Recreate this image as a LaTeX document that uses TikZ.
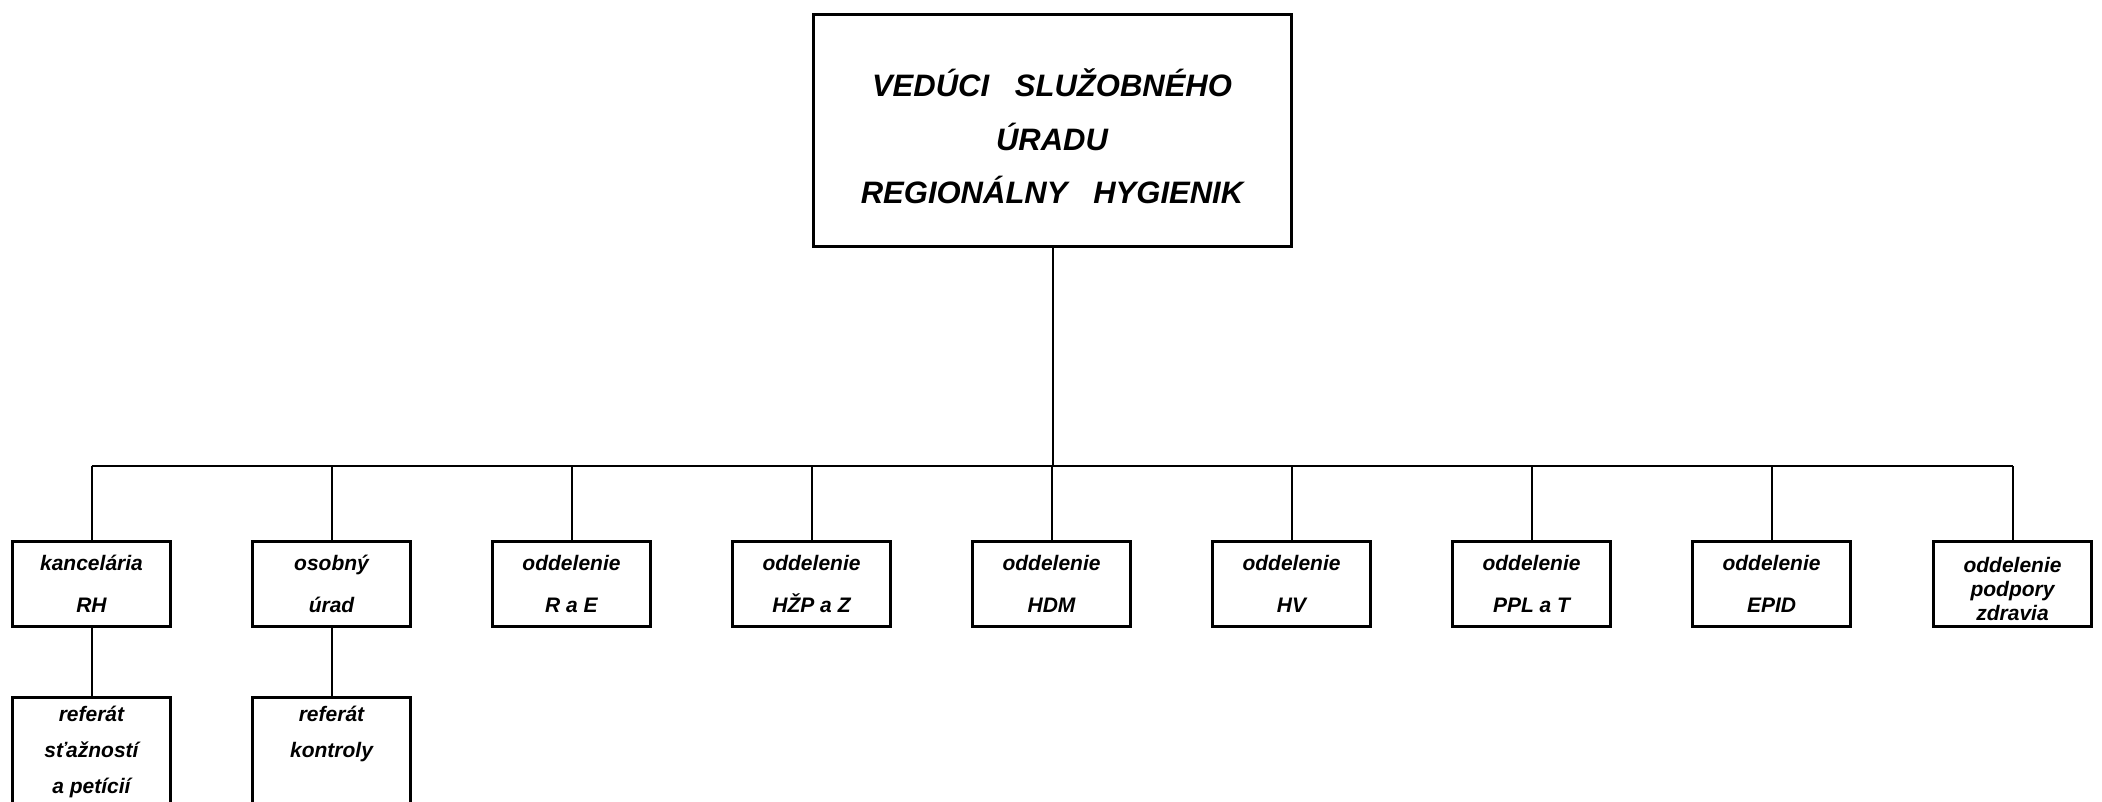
\documentclass[tikz,border=0pt]{standalone}
\usepackage{fontspec}
\setmainfont{Liberation Sans}
\begin{document}
\begin{tikzpicture}[x=0.5pt,y=-0.5pt,
  frame/.style={draw=black, line width=1.6pt, rectangle, inner sep=0pt},
  topbox/.style={frame, minimum width=239pt, minimum height=116pt},
  unitbox/.style={frame, minimum width=79pt, minimum height=42.5pt, align=center,
    font=\bfseries\itshape\fontsize{10.5}{21}\selectfont},
  subbox/.style={frame, minimum width=79pt, minimum height=62pt, anchor=north},
  toptext/.style={align=center, inner sep=0pt,
    font=\bfseries\itshape\fontsize{15.5}{26.75}\selectfont},
  subtext/.style={align=center, inner sep=0pt,
    font=\bfseries\itshape\fontsize{10.5}{18}\selectfont},
  tighttext/.style={align=center, inner sep=0pt,
    font=\bfseries\itshape\fontsize{10.5}{12}\selectfont},
  link/.style={line width=1pt}]
\useasboundingbox (0,0) rectangle (2102,802);

% top box
\node[topbox] (vs) at (1052.5,130.5) {};
\node[toptext] (vst) at (1052,136.5) {VEDÚCI\ \ \ SLUŽOBNÉHO\\ÚRADU\\REGIONÁLNY\ \ \ HYGIENIK};

% units
\node[unitbox] (u1) at (91.5,584) {kancelária\\RH};
\node[unitbox] (u2) at (331.5,584) {osobný\\úrad};
\node[unitbox] (u3) at (571.5,584) {oddelenie\\R a E};
\node[unitbox] (u4) at (811.5,584) {oddelenie\\HŽP a Z};
\node[unitbox] (u5) at (1051.5,584) {oddelenie\\HDM};
\node[unitbox] (u6) at (1291.5,584) {oddelenie\\HV};
\node[unitbox] (u7) at (1531.5,584) {oddelenie\\PPL a T};
\node[unitbox] (u8) at (1771.5,584) {oddelenie\\EPID};
\node[unitbox] (u9) at (2012.5,584) {};
\node[tighttext] (u9t) at (2012.5,589) {oddelenie\\podpory\\zdravia};

% sub units
\node[subbox] (s1) at (91.5,695.5) {};
\node[subtext] (s1t) at (91.5,751.7) {referát\\sťažností\\a petícií};
\node[subbox] (s2) at (331.5,695.5) {};
\node[subtext] (s2t) at (331.5,733.7) {referát\\kontroly};

% connectors
\coordinate (busL) at (91.5,466);
\coordinate (busR) at (2012.5,466);
\draw[link] (vs.south) -- (vs.south |- busL);
\draw[link] (busL) -- (busR);
\foreach \u in {u1,u2,u3,u4,u5,u6,u7,u8,u9}
  \draw[link] (\u.north |- busL) -- (\u.north);
\draw[link] (u1.south) -- (s1.north);
\draw[link] (u2.south) -- (s2.north);
\end{tikzpicture}
\end{document}
